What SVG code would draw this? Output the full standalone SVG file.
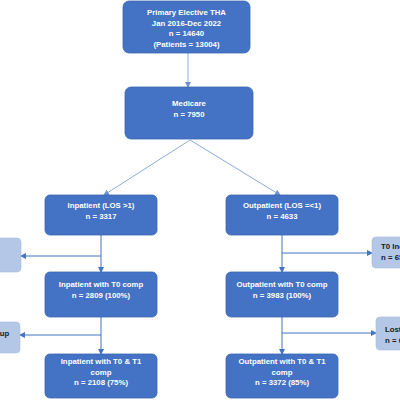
<svg xmlns="http://www.w3.org/2000/svg" width="400" height="400" viewBox="0 0 400 400">
<defs>
<marker id="ah" markerWidth="6" markerHeight="6" refX="5" refY="3" orient="auto" markerUnits="userSpaceOnUse">
<path d="M0,0 L6,3 L0,6 Z" fill="#4472c4"/>
</marker>
<marker id="ahl" markerWidth="6" markerHeight="6" refX="5" refY="3" orient="auto" markerUnits="userSpaceOnUse">
<path d="M0,0 L6,3 L0,6 Z" fill="#6f91cf"/>
</marker>
<style>
.main{fill:#4472c4;stroke:#3c66b3;stroke-width:0.8}
.side{fill:#b4c7e7;stroke:#a9bee3;stroke-width:0.6}
.t{font-family:"Liberation Sans",Arial,sans-serif;font-weight:bold;font-size:7.8px;fill:#ffffff;text-anchor:middle}
.s{font-family:"Liberation Sans",Arial,sans-serif;font-weight:bold;font-size:7.8px;fill:#1a1a1a}
.c{stroke:#4472c4;stroke-width:1;fill:none}
.cl{stroke:#8eaadb;stroke-width:1;fill:none}
</style>
</defs>
<rect width="400" height="400" fill="#ffffff"/>
<g id="connectors">
<line class="cl" x1="188" y1="53" x2="188" y2="87" marker-end="url(#ahl)"/>
<line class="cl" x1="190" y1="140" x2="104" y2="195" marker-end="url(#ahl)"/>
<line class="cl" x1="190" y1="140" x2="280" y2="195" marker-end="url(#ahl)"/>
<line class="c" x1="101" y1="235" x2="101" y2="272" marker-end="url(#ah)"/>
<line class="c" x1="101" y1="256" x2="21" y2="256" marker-end="url(#ah)"/>
<line class="c" x1="101" y1="317" x2="101" y2="354" marker-end="url(#ah)"/>
<line class="c" x1="101" y1="335" x2="20" y2="335" marker-end="url(#ah)"/>
<line class="c" x1="282" y1="235" x2="282" y2="272" marker-end="url(#ah)"/>
<line class="c" x1="282" y1="253" x2="372" y2="253" marker-end="url(#ah)"/>
<line class="c" x1="282" y1="317" x2="282" y2="354" marker-end="url(#ah)"/>
<line class="c" x1="282" y1="333" x2="376" y2="333" marker-end="url(#ah)"/>
</g>
<g id="n-tha">
<rect class="main" x="123" y="1" width="127" height="52" rx="6"/>
<text class="t" x="186.5" y="15">Primary Elective THA</text>
<text class="t" x="186.5" y="25.7">Jan 2016-Dec 2022</text>
<text class="t" x="186.5" y="36.4">n = 14640</text>
<text class="t" x="186.5" y="47">(Patients = 13004)</text>
</g>
<g id="n-medicare">
<rect class="main" x="125" y="87" width="128" height="52" rx="6"/>
<text class="t" x="189" y="106">Medicare</text>
<text class="t" x="189" y="116.5">n = 7950</text>
</g>
<g id="n-inpatient">
<rect class="main" x="45" y="195" width="112" height="40" rx="5"/>
<text class="t" x="101" y="208">Inpatient (LOS &gt;1)</text>
<text class="t" x="101" y="218.5">n = 3317</text>
</g>
<g id="n-outpatient">
<rect class="main" x="226" y="195" width="112" height="40" rx="5"/>
<text class="t" x="282" y="208">Outpatient (LOS =&lt;1)</text>
<text class="t" x="282" y="218.5">n = 4633</text>
</g>
<g id="n-in-t0inc">
<rect class="side" x="-62" y="238" width="83" height="34" rx="4"/>
</g>
<g id="n-out-t0inc">
<rect class="side" x="372" y="237" width="83" height="31" rx="4"/>
<text class="s" x="381" y="249">T0 Incomplete</text>
<text class="s" x="381" y="260">n = 650</text>
</g>
<g id="n-in-t0">
<rect class="main" x="45" y="272" width="112" height="45" rx="5"/>
<text class="t" x="101" y="287">Inpatient with T0 comp</text>
<text class="t" x="101" y="297.5">n = 2809 (100%)</text>
</g>
<g id="n-out-t0">
<rect class="main" x="226" y="272" width="112" height="45" rx="5"/>
<text class="t" x="282" y="287">Outpatient with T0 comp</text>
<text class="t" x="282" y="297.5">n = 3983 (100%)</text>
</g>
<g id="n-in-lost">
<rect class="side" x="-62" y="322" width="82" height="31" rx="4"/>
<text class="s" x="-53" y="336">Lost to follow up</text>
</g>
<g id="n-out-lost">
<rect class="side" x="376" y="317" width="83" height="33" rx="4"/>
<text class="s" x="385" y="332">Lost to follow up</text>
<text class="s" x="385" y="343">n = 611</text>
</g>
<g id="n-in-t1">
<rect class="main" x="45" y="354" width="112" height="44" rx="5"/>
<text class="t" x="101" y="363.5">Inpatient with T0 &amp; T1</text>
<text class="t" x="101" y="374.5">comp</text>
<text class="t" x="101" y="385">n = 2108 (75%)</text>
</g>
<g id="n-out-t1">
<rect class="main" x="226" y="354" width="112" height="44" rx="5"/>
<text class="t" x="282" y="363.5">Outpatient with T0 &amp; T1</text>
<text class="t" x="282" y="374.5">comp</text>
<text class="t" x="282" y="385">n = 3372 (85%)</text>
</g>
</svg>
